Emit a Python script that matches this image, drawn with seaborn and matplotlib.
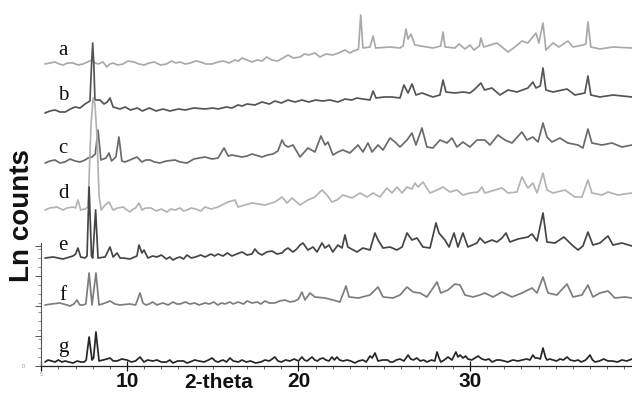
import matplotlib
matplotlib.use("Agg")
import matplotlib.pyplot as plt
from matplotlib.ticker import FixedLocator
import seaborn as sns

# ---- powder patterns, stacked (2-theta in degrees, offset Ln counts) ----
a_x = [5.22, 5.5, 5.8, 6.05, 6.27, 6.55, 6.85, 7.15, 7.43, 7.7, 7.96, 8.15, 8.31, 8.6, 8.83, 9.0,
       9.19, 9.45, 9.77, 10.05, 10.4, 10.7, 11.0, 11.3, 11.6, 11.95, 12.3, 12.6, 12.85, 13.1, 13.4,
       13.7, 14.0, 14.3, 14.6, 14.96, 15.3, 15.6, 15.95, 16.3, 16.5, 16.71, 17.0, 17.29, 17.6, 17.87,
       18.15, 18.45, 18.79, 19.1, 19.39, 19.7, 20.09, 20.35, 20.6, 20.96, 21.25, 21.6, 22.01, 22.35,
       22.71, 23.0, 23.2, 23.41, 23.5, 23.63, 23.76, 24.17, 24.35, 24.5, 25.34, 25.92, 26.1, 26.27,
       26.39, 26.56, 26.79, 27.49, 27.84, 28.3, 28.43, 28.55, 29.13, 29.36, 29.71, 30.0, 30.23, 30.55,
       30.64, 30.8, 31.57, 31.87, 32.22, 32.62, 33.03, 33.38, 33.85, 34.02, 34.26, 34.43, 34.84, 35.19,
       35.71, 36.01, 36.59, 36.76, 36.88, 37.05, 37.58, 38.34, 39.45]
a_y = [302, 303, 304, 302, 301, 303, 303, 301, 302, 304, 306, 303, 302, 304, 299, 302,
       303, 301, 302, 305, 304, 302, 301, 303, 304, 301, 302, 305, 303, 304, 302,
       303, 305, 304, 302, 302, 304, 305, 303, 306, 305, 308, 306, 304, 306, 305,
       309, 306, 305, 308, 311, 308, 309, 312, 311, 313, 309, 312, 311, 313,
       316, 313, 315, 316, 317, 351, 318, 319, 330, 318, 319, 318, 320, 337,
       327, 332, 321, 319, 318, 320, 334, 319, 318, 322, 317, 321, 316, 320,
       328, 319, 323, 319, 314, 319, 325, 323, 333, 323, 343, 316, 323, 319,
       325, 319, 321, 322, 344, 319, 317, 319, 318]

b_x = [5.22, 5.5, 5.8, 6.1, 6.4, 6.7, 6.97, 7.26, 7.55, 7.84, 7.93, 8.0, 8.07, 8.13, 8.43, 8.66,
       8.85, 9.01, 9.19, 9.59, 9.9, 10.2, 10.6, 10.9, 11.3, 11.7, 12.1, 12.5, 13.0, 13.4, 13.9,
       14.55, 15.0, 15.31, 15.8, 16.12, 16.47, 16.71, 17.0, 17.46, 17.87, 18.3, 18.63, 19.0, 19.39,
       19.8, 20.2, 20.6, 21.0, 21.4, 21.84, 22.3, 22.71, 23.1, 23.41, 23.76, 24.17, 24.35, 24.52,
       25.0, 25.45, 25.92, 26.15, 26.39, 26.62, 26.85, 27.2, 27.84, 28.25, 28.43, 28.6, 29.13, 29.6,
       30.0, 30.23, 30.64, 30.85, 31.28, 31.75, 32.22, 32.74, 33.38, 33.67, 33.85, 34.1, 34.26, 34.43,
       34.84, 35.66, 36.12, 36.7, 36.88, 37.05, 37.58, 38.34, 39.45]
b_y = [253, 255, 256, 254, 254, 257, 259, 258, 262, 265, 300, 323, 300, 266, 266, 262,
       264, 268, 259, 257, 259, 256, 258, 255, 258, 255, 257, 255, 257, 256, 258,
       257, 258, 257, 259, 258, 261, 260, 262, 261, 264, 262, 265, 263, 266,
       264, 266, 264, 266, 265, 266, 264, 267, 266, 268, 267, 266, 275, 268,
       269, 269, 268, 281, 273, 282, 271, 273, 269, 271, 286, 274, 273, 274,
       273, 276, 283, 276, 278, 271, 276, 274, 278, 284, 278, 280, 298, 276,
       274, 277, 271, 273, 290, 271, 269, 271, 269]

c_x = [5.22, 5.51, 5.8, 6.09, 6.38, 6.68, 6.97, 7.26, 7.55, 7.73, 7.96, 8.15, 8.31, 8.48, 8.78,
       8.95, 9.1, 9.35, 9.53, 9.7, 9.88, 10.17, 10.58, 10.87, 11.1, 11.34, 11.6, 11.92, 12.3, 12.8,
       13.1, 13.5, 13.9, 14.55, 14.96, 15.31, 15.66, 15.9, 16.12, 16.71, 17.0, 17.29, 17.87, 18.2,
       18.51, 18.8, 19.04, 19.2, 19.39, 19.68, 20.09, 20.55, 20.96, 21.31, 21.55, 21.72, 22.01, 22.3,
       22.59, 23.0, 23.47, 23.76, 24.05, 24.29, 24.64, 24.93, 25.34, 25.63, 25.92, 26.33, 26.62,
       26.85, 27.2, 27.49, 27.84, 28.25, 28.66, 28.95, 29.24, 29.59, 30.0, 30.41, 30.87, 31.17,
       31.63, 32.04, 32.45, 33.03, 33.32, 33.67, 33.97, 34.26, 34.49, 34.78, 35.25, 35.71, 36.3,
       36.59, 36.88, 37.11, 37.7, 38.28, 38.86, 39.45]
c_y = [203, 205, 206, 203, 204, 207, 205, 204, 206, 208, 209, 212, 236, 206, 208,
       213, 205, 209, 229, 205, 204, 206, 209, 204, 206, 206, 204, 203, 205, 206,
       204, 203, 207, 209, 207, 208, 218, 210, 211, 209, 210, 212, 209, 211,
       212, 215, 226, 221, 219, 221, 209, 218, 214, 230, 221, 224, 211, 214,
       216, 213, 221, 214, 223, 214, 221, 216, 228, 224, 219, 226, 233,
       221, 238, 219, 218, 226, 223, 228, 219, 224, 219, 226, 226, 221,
       231, 226, 223, 234, 226, 229, 224, 243, 229, 224, 228, 223, 221,
       218, 237, 223, 221, 223, 219, 221]

d_x = [5.22, 5.5, 5.92, 6.27, 6.5, 6.85, 7.0, 7.14, 7.3, 7.55, 7.73, 7.9, 8.02, 8.13, 8.25, 8.37,
       8.5, 8.72, 8.95, 9.19, 9.45, 9.77, 10.0, 10.17, 10.35, 10.5, 10.7, 10.87, 11.1, 11.4, 11.7,
       12.0, 12.33, 12.55, 12.8, 13.09, 13.3, 13.5, 13.75, 14.0, 14.3, 14.55, 14.9, 15.31, 15.89,
       16.3, 16.47, 17.29, 18.05, 18.63, 19.04, 19.33, 19.62, 20.09, 20.55,
       20.96, 21.37, 21.66, 21.95, 22.24, 22.59, 23.12, 23.59, 24.0, 24.35, 24.75, 25.16, 25.45,
       25.74, 26.04, 26.33, 26.62, 26.79, 26.97, 27.26, 27.67, 28.08, 28.43, 28.83, 29.24, 29.59,
       30.0, 30.47, 30.7, 30.87, 31.46, 31.87, 32.22, 32.74, 33.03, 33.38, 33.67, 33.91, 34.26,
       34.49, 34.84, 35.54, 36.12, 36.53, 36.88, 37.11, 37.7, 38.05, 38.63, 39.45]
d_y = [156, 158, 159, 156, 158, 159, 158, 166, 156, 157, 159, 240, 268, 262, 230, 170,
       156, 161, 164, 156, 158, 159, 156, 154, 157, 158, 163, 156, 158, 158, 155,
       157, 154, 157, 156, 158, 155, 156, 158, 157, 155, 159, 157, 159, 164,
       166, 159, 163, 161, 164, 169, 163, 168, 161, 166,
       169, 176, 171, 164, 166, 171, 168, 173, 169, 173, 169, 178, 173,
       179, 173, 179, 177, 183, 179, 184, 173, 176, 179, 174, 176, 171,
       173, 174, 179, 173, 176, 178, 173, 174, 189, 178, 183, 173, 193,
       176, 173, 176, 169, 169, 186, 173, 171, 174, 171, 173]

e_x = [5.22, 5.69, 6.27, 6.85, 7.0, 7.14, 7.3, 7.55, 7.67, 7.79, 7.93, 8.0, 8.17, 8.31, 8.72, 9.01,
       9.19, 9.42, 9.6, 9.77, 10.17, 10.58, 10.7, 10.87, 10.99, 11.22, 11.5, 11.75, 12.0, 12.3, 12.5,
       12.68, 12.9, 13.09, 13.3, 13.5, 13.75, 14.0, 14.3, 14.55, 14.9, 15.1, 15.31, 15.6, 15.85,
       16.12, 16.4, 16.71, 17.0, 17.29, 17.46, 17.65, 17.87, 18.15, 18.45, 18.75, 19.04, 19.2,
       19.39, 19.68, 19.9, 20.09, 20.26, 20.55, 20.85, 21.08, 21.37, 21.55, 21.78, 22.0, 22.3,
       22.54, 22.71, 22.88, 23.41, 23.76, 24.17, 24.46, 24.64, 24.93, 25.34, 25.74, 26.04, 26.33,
       26.62, 26.91, 27.26, 27.67, 28.02, 28.19, 28.54, 28.78, 29.07, 29.3, 29.59, 29.88, 30.41,
       30.58, 30.87, 31.28, 31.57, 31.87, 32.1, 32.33, 32.8, 33.38, 33.62, 33.91, 34.26, 34.49,
       34.96, 35.48, 35.95, 36.3, 36.59, 36.88, 37.17, 37.58, 38.05, 38.34, 38.86, 39.45]
e_y = [108, 109, 107, 110, 112, 118, 109, 108, 110, 179, 110, 108, 156, 108, 109, 119,
       109, 113, 108, 108, 107, 110, 121, 113, 116, 108, 110, 109, 111, 107, 109,
       106, 108, 109, 107, 111, 108, 109, 111, 109, 112, 110, 112, 110, 113,
       110, 112, 114, 111, 112, 117, 113, 111, 114, 115, 112, 113, 116,
       118, 114, 117, 121, 123, 116, 119, 114, 123, 118, 121, 114, 121,
       118, 131, 119, 114, 118, 116, 133, 126, 118, 119, 116, 119, 133,
       126, 128, 119, 118, 143, 133, 126, 119, 133, 119, 133, 119, 123,
       128, 123, 126, 124, 128, 133, 124, 127, 129, 132, 125, 153, 124,
       123, 129, 121, 116, 120, 134, 121, 123, 130, 121, 123, 120]

f_x = [5.22, 5.6, 6.09, 6.5, 6.68, 6.9, 7.08, 7.25, 7.43, 7.6, 7.79, 7.96, 8.19, 8.37, 8.72, 9.01,
       9.3, 9.59, 10.17, 10.5, 10.76, 10.93, 11.1, 11.3, 11.5, 11.75, 11.9, 12.1, 12.4, 12.68, 12.9,
       13.1, 13.4, 13.67, 13.95, 14.2, 14.55, 14.8, 15.05, 15.31, 15.5, 15.71, 16.0, 16.2, 16.47,
       16.8, 17.0, 17.29, 17.6, 17.8, 18.05, 18.3, 18.63, 18.9, 19.21, 19.5, 19.8, 20.0, 20.2,
       20.38, 20.67, 20.96, 21.55, 22.01, 22.42, 22.77, 22.95, 23.5, 24.17, 24.64, 24.93, 25.51,
       25.92, 26.33, 26.68, 27.09, 27.49, 28.08, 28.3, 28.72, 29.13, 29.42, 29.71, 30.17, 30.58,
       30.87, 31.34, 31.87, 32.45, 33.03, 33.62, 33.91, 34.26, 34.55, 35.07, 35.66, 36.01, 36.53,
       36.88, 37.17, 37.58, 38.05, 38.45, 39.04, 39.45]
f_y = [61, 62, 63, 61, 60, 62, 66, 61, 61, 62, 93, 61, 93, 61, 63, 65,
       62, 61, 62, 61, 73, 63, 61, 62, 64, 61, 62, 63, 61, 64, 62,
       62, 64, 62, 63, 61, 63, 62, 64, 61, 63, 62, 64, 62, 64,
       62, 65, 63, 64, 62, 65, 63, 63, 65, 66, 64, 65, 67, 74,
       66, 73, 69, 68, 66, 64, 80, 69, 68, 71, 79, 69, 68,
       71, 79, 74, 73, 69, 84, 73, 76, 82, 81, 71, 69, 71,
       73, 69, 74, 69, 73, 78, 73, 89, 73, 71, 82, 69, 71,
       81, 69, 73, 75, 68, 69, 68]

g_x = [5.22, 5.4, 5.6, 5.8, 6.0, 6.2, 6.4, 6.6, 6.85, 7.1, 7.3, 7.5, 7.62, 7.79, 7.96, 8.05, 8.19,
       8.37, 8.6, 8.83, 9.01, 9.2, 9.42, 9.7, 10.0, 10.25, 10.5, 10.76, 10.99, 11.2, 11.5, 11.75,
       12.0, 12.3, 12.5, 12.68, 12.95, 13.3, 13.5, 13.67, 13.95, 14.2, 14.5, 14.75, 14.96, 15.15,
       15.3, 15.6, 15.8, 16.0, 16.2, 16.5, 16.7, 16.95, 17.2, 17.5, 17.8, 18.05, 18.3, 18.63, 18.8,
       19.0, 19.25, 19.5, 19.75, 20.0, 20.2, 20.35, 20.5, 20.79, 20.95, 21.1, 21.25, 21.43, 21.6,
       21.78, 21.95, 22.1, 22.24, 22.4, 22.6, 22.83, 23.05, 23.29, 23.5, 23.76, 23.95, 24.17, 24.3,
       24.46, 24.64, 24.9, 25.2, 25.35, 25.51, 25.7, 25.92, 26.15, 26.39, 26.55, 26.7, 26.9, 27.1,
       27.3, 27.49, 27.75, 27.95, 28.08, 28.2, 28.3, 28.5, 28.72, 28.95, 29.18, 29.3, 29.42, 29.59,
       29.75, 29.88, 30.1, 30.3, 30.47, 30.7, 30.9, 31.1, 31.3, 31.55, 31.75, 32.0, 32.2, 32.5,
       32.8, 33.05, 33.3, 33.5, 33.67, 33.8, 33.95, 34.1, 34.26, 34.4, 34.49, 34.65, 34.84, 35.05,
       35.25, 35.45, 35.66, 35.85, 36.1, 36.3, 36.5, 36.75, 37.0, 37.15, 37.3, 37.55, 37.8, 38.05,
       38.3, 38.6, 38.86, 39.15, 39.45]
g_y = [4, 6, 5, 4, 6, 4, 5, 4, 3, 5, 4, 4, 6, 29, 6, 8, 34,
       5, 6, 7, 8, 5, 5, 7, 6, 4, 5, 9, 4, 6, 5, 6,
       4, 4, 6, 3, 5, 5, 3, 4, 6, 5, 4, 6, 8, 5,
       4, 6, 4, 8, 5, 4, 6, 4, 5, 3, 4, 6, 5, 9, 5,
       4, 6, 5, 7, 5, 9, 6, 5, 9, 6, 5, 7, 8, 6,
       5, 9, 6, 9, 6, 5, 6, 5, 3, 5, 6, 4, 10, 8,
       13, 5, 6, 6, 4, 4, 6, 7, 5, 11, 7, 6, 8, 5,
       6, 4, 6, 5, 14, 8, 4, 6, 9, 6, 14, 9, 11, 8,
       10, 7, 6, 8, 10, 7, 6, 7, 4, 6, 6, 5, 4, 6,
       5, 6, 7, 6, 11, 8, 8, 7, 18, 9, 6, 7, 6, 5,
       7, 6, 9, 6, 5, 6, 4, 6, 11, 6, 4, 5, 7, 5,
       5, 4, 6, 5, 7]

names = ["a", "b", "c", "d", "e", "f", "g"]
label_y = [311, 266, 213, 168, 116, 66, 14]
colors = ["#a9a9a9", "#555555", "#6a6a6a", "#b3b3b3", "#454545", "#7d7d7d", "#262626"]
traces = [(a_x, a_y), (b_x, b_y), (c_x, c_y), (d_x, d_y), (e_x, e_y), (f_x, f_y), (g_x, g_y)]

sns.set_theme(style="white")
plt.rcParams["font.family"] = ["Liberation Sans", "DejaVu Sans"]

fig = plt.figure(figsize=(6.32, 3.96), dpi=100)
ax = fig.add_axes([41.25 / 632, 30 / 396, (632 - 41.25) / 632, 366 / 396])

for (xs, ys), col in zip(traces, colors):
    sns.lineplot(x=xs, y=ys, ax=ax, color=col, linewidth=1.25, estimator=None, sort=False)

for name, yy in zip(names, label_y):
    ax.text(6.27, yy, name, family="Liberation Serif", fontsize=15, ha="center", va="baseline",
            color="#111111")

ax.set_xlim(5, 39.45)
ax.set_ylim(0, 366)
ax.set_xlabel("")
ax.set_ylabel("")

for s in ["top", "right"]:
    ax.spines[s].set_visible(False)
ax.spines["bottom"].set_color("#222222")
ax.spines["bottom"].set_linewidth(0.9)
ax.spines["left"].set_color("#555555")
ax.spines["left"].set_linewidth(0.8)
ax.spines["left"].set_bounds(0, 123)

ax.set_xticks([5, 10, 20, 30])
ax.set_xticklabels(["5", "10", "20", "30"], fontweight="bold")
ax.xaxis.set_minor_locator(FixedLocator(list(range(6, 40))))
ax.tick_params(axis="x", which="major", bottom=True, direction="inout", length=7, width=0.9,
               labelsize=15, pad=1, colors="#111111")
ax.tick_params(axis="x", which="minor", bottom=True, direction="out", length=2.5, width=0.6,
               color="#444444")
lab5 = ax.get_xticklabels()[0]
lab5.set_fontsize(4)
lab5.set_color("#999999")
lab5.set_fontweight("normal")

ax.set_yticks([0, 30, 60, 90, 120])
ax.set_yticklabels(["0", "", "", "", ""])
ax.yaxis.set_minor_locator(FixedLocator(list(range(0, 124, 9))))
ax.tick_params(axis="y", which="major", left=True, direction="out", length=4, width=0.7,
               labelsize=4, labelcolor="#999999", color="#555555", pad=8)
ax.tick_params(axis="y", which="minor", left=True, direction="out", length=2, width=0.5,
               color="#666666")

ax.text(15.36, -0.045, "2-theta", transform=ax.get_xaxis_transform(), ha="center", va="center",
        fontsize=15, fontweight="bold", color="#111111")
fig.text(22 / 632, 1 - 216 / 396, "Ln counts", rotation=90, ha="center", va="center",
         fontsize=20, fontweight="bold", color="#111111")

fig.savefig("out.png", dpi=100, facecolor="white")
